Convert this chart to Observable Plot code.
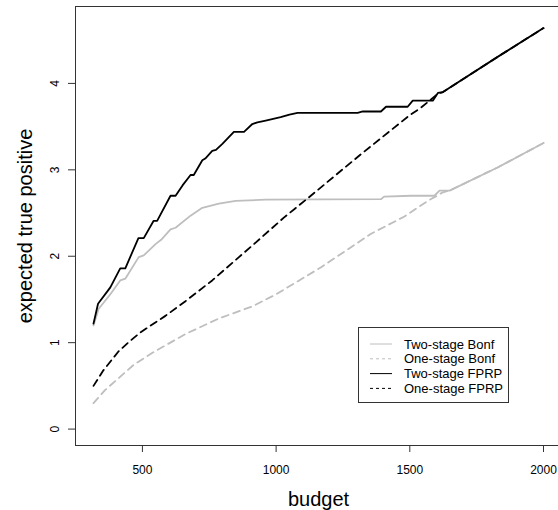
<!DOCTYPE html>
<html><head><meta charset="utf-8">
<script src="https://cdn.jsdelivr.net/npm/d3@7"></script>
<script src="https://cdn.jsdelivr.net/npm/@observablehq/plot@0.6"></script>
<style>
body{margin:0;background:#fff;}
#chart{position:relative;width:558px;height:510px;overflow:hidden;}
</style>
</head><body><div id="chart"></div>
<script>
// ---- data ----
const twoBonfBudget = [317,336,380,417,436,486,505,549,570,605,624,680,724,786,849,961,1392,1404,1505,1592,1611,1649,1830,2000];
const twoBonfValue  = [1.20,1.39,1.56,1.72,1.74,1.99,2.01,2.14,2.19,2.31,2.33,2.47,2.56,2.61,2.64,2.655,2.66,2.69,2.70,2.70,2.76,2.76,3.03,3.31];

const oneBonfBudget = [317,360,411,470,536,661,786,911,1000,1167,1355,1480,1567,1624,1649,1830,2000];
const oneBonfValue  = [0.30,0.45,0.59,0.75,0.88,1.10,1.28,1.42,1.56,1.87,2.26,2.46,2.64,2.74,2.76,3.03,3.31];

const twoFprpBudget = [317,334,380,417,436,485,505,542,555,605,624,650,680,692,724,735,761,775,799,842,880,911,930,961,1017,1050,1080,1305,1324,1392,1411,1492,1511,1586,1605,1624,1830,2000];
const twoFprpValue  = [1.22,1.45,1.64,1.86,1.86,2.21,2.21,2.41,2.41,2.70,2.70,2.82,2.94,2.94,3.11,3.13,3.22,3.23,3.30,3.44,3.44,3.53,3.55,3.57,3.61,3.64,3.66,3.66,3.675,3.675,3.73,3.73,3.80,3.80,3.89,3.90,4.31,4.64];

const oneFprpBudget = [317,354,411,450,493,586,661,761,861,917,1030,1118,1317,1499,1542,1605,1624,1830,2000];
const oneFprpValue  = [0.50,0.68,0.90,1.01,1.12,1.31,1.48,1.72,1.99,2.14,2.45,2.67,3.18,3.63,3.72,3.88,3.90,4.31,4.64];

const seriesNames  = ["Two-stage Bonf","One-stage Bonf","Two-stage FPRP","One-stage FPRP"];
const seriesColors = ["#bebebe","#bebebe","#000000","#000000"];
const seriesDash   = [null,"7,5",null,"7,5"];

const xTicks = [500,1000,1500,2000];
const yTicks = [0,1,2,3,4];
const xLabel = "budget";
const yLabel = "expected true positive";

// ---- build ----
function rows(b, v){ return b.map((d,i)=>({budget:d, value:v[i]})); }
const seriesData = [
  rows(twoBonfBudget, twoBonfValue),
  rows(oneBonfBudget, oneBonfValue),
  rows(twoFprpBudget, twoFprpValue),
  rows(oneFprpBudget, oneFprpValue)
];

const FONT = "Liberation Sans, Arial, Helvetica, sans-serif";

const lineMarks = seriesData.map((data,i)=>Plot.line(data, {
  x:"budget", y:"value",
  stroke: seriesColors[i], strokeWidth: 1.8,
  strokeDasharray: seriesDash[i] || undefined
}));

const plot = Plot.plot({
  width:558, height:510,
  marginLeft:75, marginRight:-3, marginTop:6, marginBottom:65,
  style:{fontFamily:FONT, background:"#fff", color:"#000"},
  x:{domain:[249.7,2067.3]},
  y:{domain:[-0.19,4.89]},
  marks:[
    ...lineMarks,
    Plot.frame({stroke:"#333", strokeWidth:1}),
    Plot.axisX({ticks:xTicks, tickFormat:d=>String(d), tickSize:7, tickPadding:13, fontSize:12, label:null, stroke:"#333"}),
    Plot.axisY({ticks:yTicks, tickFormat:d=>String(d), tickSize:7, tickRotate:-90, tickPadding:10, fontSize:12, label:null, stroke:"#333"}),
    Plot.text([xLabel], {frameAnchor:"bottom", text:d=>d, dy:53.6, fontSize:20, lineAnchor:"middle", textAnchor:"middle", fill:"#000"}),
    Plot.text([yLabel], {frameAnchor:"left", text:d=>d, rotate:-90, dx:-50, fontSize:20, lineAnchor:"middle", textAnchor:"middle", fill:"#000"})
  ]
});
document.getElementById("chart").appendChild(plot);

// ---- legend ----
const svg = d3.select(plot);
const lg = svg.append("g").attr("font-family", FONT).attr("font-size", 13).attr("text-anchor","start");
lg.append("rect").attr("x",358.5).attr("y",327.5).attr("width",150).attr("height",75)
  .attr("fill","#fff").attr("stroke","#333").attr("stroke-width",1);
seriesNames.forEach((name,i)=>{
  const yy = 344 + i*14.8;
  lg.append("line").attr("x1",370).attr("x2",392).attr("y1",yy).attr("y2",yy)
    .attr("stroke", seriesColors[i]).attr("stroke-width",1)
    .attr("stroke-dasharray", seriesDash[i] ? "3,3" : null);
  lg.append("text").attr("x",404).attr("y",yy).attr("dy","0.35em")
    .attr("text-anchor","start").attr("fill","#000").text(name);
});
</script>
</body></html>
